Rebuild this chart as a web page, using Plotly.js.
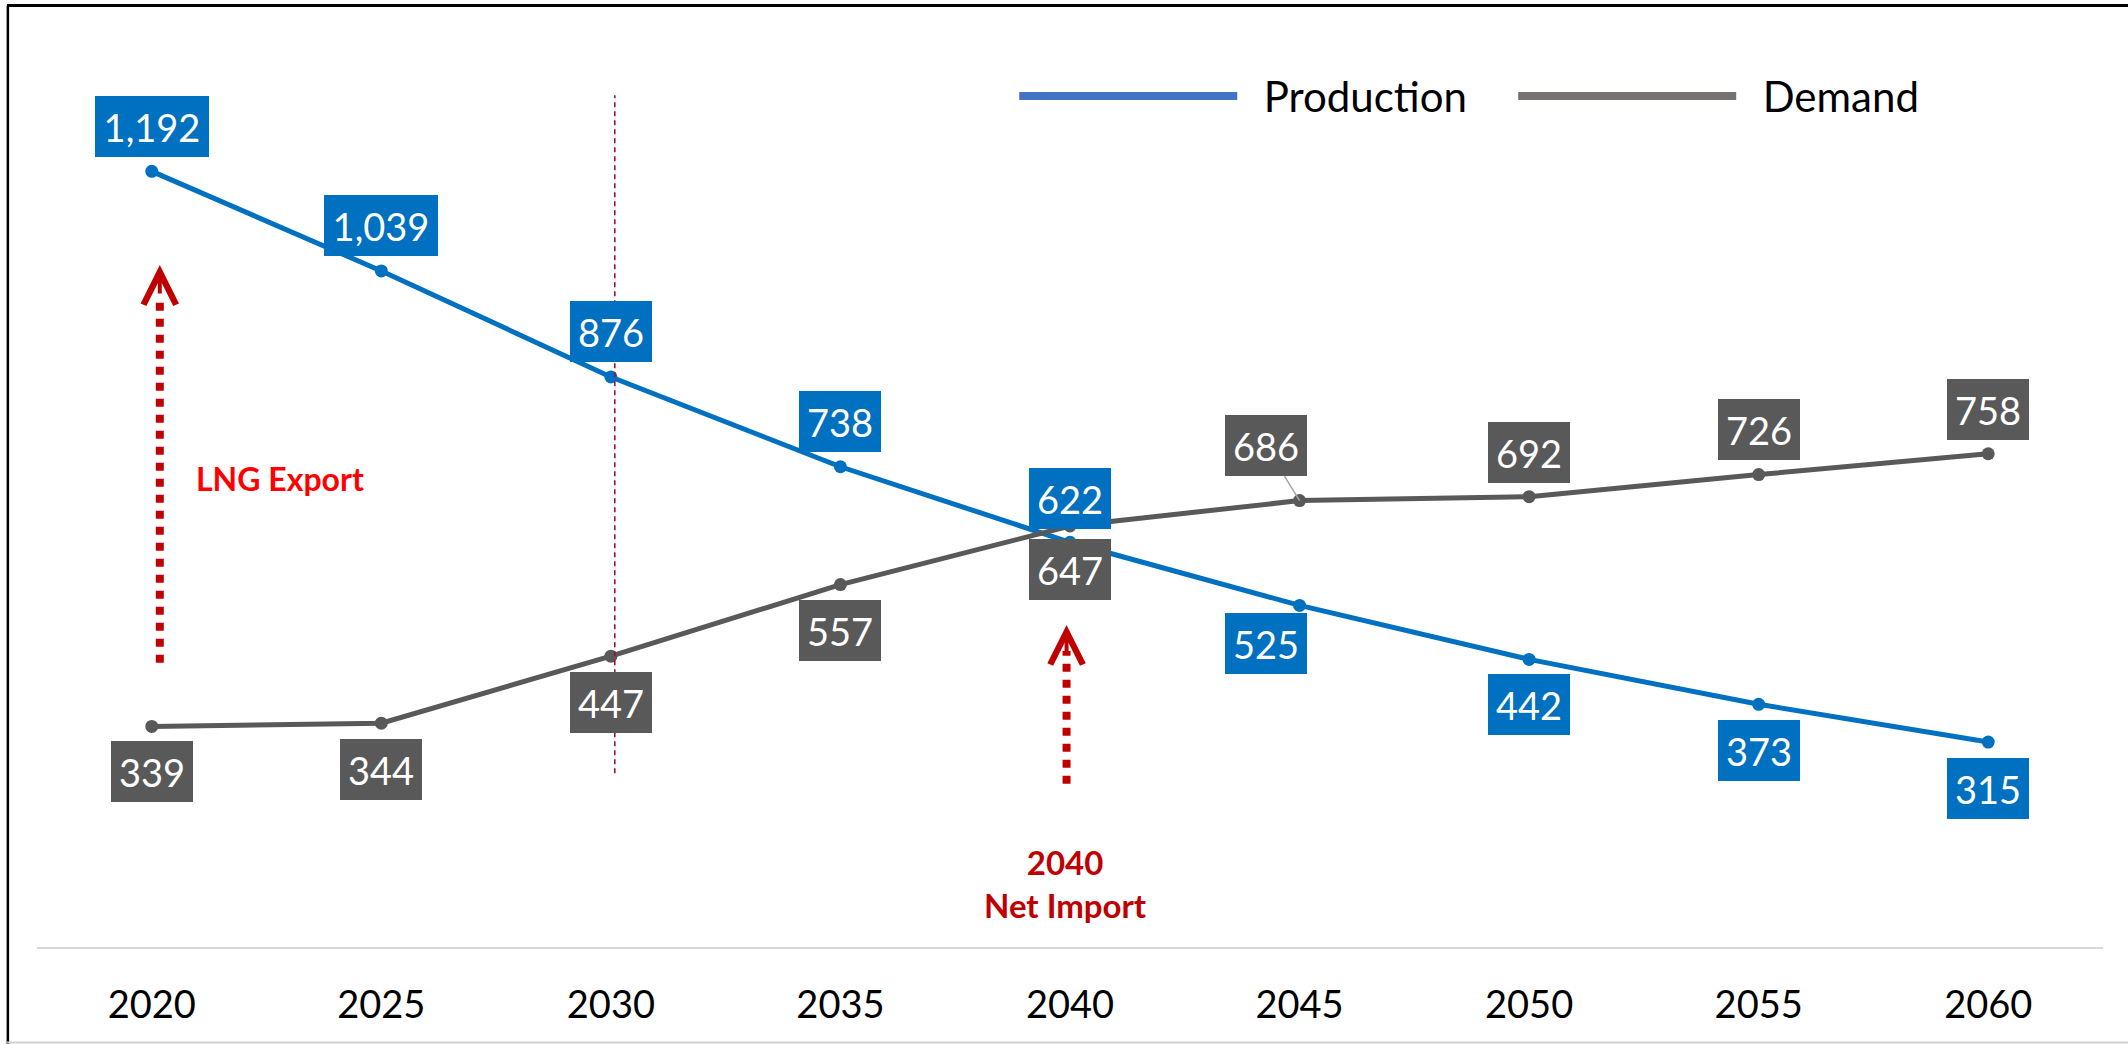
<!DOCTYPE html>
<html>
<head>
<meta charset="utf-8">
<script src="https://cdn.plot.ly/plotly-3.0.1.min.js"></script>
<style>html,body{margin:0;padding:0;background:#fff;}#chart{width:2128px;height:1044px;}</style>
</head>
<body>
<div id="chart"></div>
<script>
// ---- data ----
const years = ['2020', '2025', '2030', '2035', '2040', '2045', '2050', '2055', '2060'];
const production = [1192, 1039, 876, 738, 622, 525, 442, 373, 315];
const demand = [339, 344, 447, 557, 647, 686, 692, 726, 758];
const seriesNames = ['Production', 'Demand'];

// ---- label placement (pixels, down = positive) ----
const prodLabelDy = [-45, -45, -45, -45, -44, 38, 45, 46, 46];
const prodLabelDx = [0, 0, 0, 0, 0, -34, 0, 0, 0];
const demLabelDy = [45, 46, 46, 46, 44, -55, -44, -45, -44];
const demLabelDx = [0, 0, 0, 0, 0, -34, 0, 0, 0];
const leaderIdx = 5; // demand label with leader line

const FONT = 'Lato, "Open Sans", "Noto Sans", sans-serif';
const BLUE = '#0070C0', GREY = '#595959';
const LEG_BLUE = '#4472C4', LEG_GREY = '#767171';
const NB = '\u00a0\u00a0';

function fmt(v) { return v.toLocaleString('en-US'); }

const annotations = [];
function addLabels(vals, dx, dy, color, isDemand) {
  vals.forEach((v, i) => {
    const txt = fmt(v);
    const a = {
      x: i, y: v, xref: 'x', yref: 'y',
      text: txt,
      font: {family: FONT, size: 38, color: '#FFFFFF'},
      bgcolor: color, borderwidth: 0, borderpad: 0,
      width: txt.length > 3 ? 114 : 82, height: 61,
      align: 'center', valign: 'middle'
    };
    if (isDemand && i === leaderIdx) {
      Object.assign(a, {showarrow: true, ax: dx[i], ay: dy[i], arrowhead: 0,
        arrowcolor: '#A6A6A6', arrowwidth: 1.5, standoff: 0});
    } else {
      Object.assign(a, {showarrow: false, xshift: dx[i], yshift: -dy[i]});
    }
    annotations.push(a);
  });
}
addLabels(production, prodLabelDx, prodLabelDy, BLUE, false);
addLabels(demand, demLabelDx, demLabelDy, GREY, true);

// Call-out texts and arrow heads
annotations.push({
  x: 0.56, y: 720, xref: 'x', yref: 'y', showarrow: false,
  text: '<b>LNG Export</b>', font: {family: FONT, size: 32, color: '#FF0000'}
});
annotations.push({
  x: 3.98, y: 98, xref: 'x', yref: 'y', showarrow: false,
  text: '<b>2040</b><br><b>Net Import</b>', font: {family: FONT, size: 33, color: '#C00000'}
});
[[0.035, 1048], [3.985, 495]].forEach(p => {
  annotations.push({
    x: p[0], y: p[1], xref: 'x', yref: 'y', text: '', showarrow: true,
    ax: 0, ay: 30, arrowhead: 5, arrowsize: 1.6, arrowwidth: 4, arrowcolor: '#C00000'
  });
});

const shapes = [
  // dashed marker line at 2030
  {type: 'line', xref: 'x', yref: 'y', x0: 2.017, x1: 2.017, y0: 267, y1: 1309,
   line: {color: '#9E1040', width: 1.6, dash: '5px,4px'}},
  // dotted arrow shafts
  {type: 'line', xref: 'x', yref: 'y', x0: 0.035, x1: 0.035, y0: 437, y1: 1000,
   line: {color: '#C00000', width: 8, dash: 'dot'}},
  {type: 'line', xref: 'x', yref: 'y', x0: 3.985, x1: 3.985, y0: 251, y1: 455,
   line: {color: '#C00000', width: 8, dash: 'dot'}},
  // frame
  {type: 'line', xref: 'paper', yref: 'paper', x0: -0.0145, x1: 1.02, y0: 1.0335, y1: 1.0335,
   line: {color: '#000000', width: 3}},
  {type: 'line', xref: 'paper', yref: 'paper', x0: -0.0141, x1: -0.0141, y0: 1.0335, y1: -0.11,
   line: {color: '#000000', width: 2.5}},
  {type: 'line', xref: 'paper', yref: 'paper', x0: -0.0145, x1: 1.02, y0: -0.1048, y1: -0.1048,
   line: {color: '#D0D0D0', width: 2}}
];

const traces = [
  {x: years, y: production, type: 'scatter', mode: 'lines+markers', name: seriesNames[0],
   line: {color: BLUE, width: 5}, marker: {color: BLUE, size: 13}, showlegend: false, hoverinfo: 'x+y'},
  {x: years, y: demand, type: 'scatter', mode: 'lines+markers', name: seriesNames[1],
   line: {color: GREY, width: 5}, marker: {color: GREY, size: 13}, showlegend: false, hoverinfo: 'x+y'},
  // legend entries
  {x: [null], y: [null], type: 'scatter', mode: 'lines', name: NB + seriesNames[0],
   line: {color: LEG_BLUE, width: 8}, showlegend: true, hoverinfo: 'skip'},
  {x: [null], y: [null], type: 'scatter', mode: 'lines', name: NB + seriesNames[1],
   line: {color: LEG_GREY, width: 8}, showlegend: true, hoverinfo: 'skip'}
];

const layout = {
  width: 2128, height: 1044,
  margin: {l: 37, r: 25, t: 36, b: 97, pad: 0},
  paper_bgcolor: '#FFFFFF', plot_bgcolor: '#FFFFFF',
  font: {family: FONT, color: '#000000'},
  xaxis: {
    type: 'category', range: [-0.5, 8.5], showgrid: false, zeroline: false,
    showline: true, linecolor: '#D9D9D9', linewidth: 2,
    ticks: '', tickfont: {family: FONT, size: 38, color: '#000000'},
    ticklabelstandoff: 23, fixedrange: true
  },
  yaxis: {
    range: [0, 1400], visible: false, showgrid: false, zeroline: false, fixedrange: true
  },
  showlegend: true,
  legend: {
    orientation: 'h', x: 0.473, xanchor: 'left', y: 0.934, yanchor: 'middle',
    font: {family: FONT, size: 42, color: '#000000'},
    itemwidth: 218, entrywidth: 266, bgcolor: 'rgba(0,0,0,0)', traceorder: 'normal'
  },
  annotations: annotations,
  shapes: shapes
};

Plotly.newPlot('chart', traces, layout, {displayModeBar: false, staticPlot: true});
</script>
</body>
</html>
